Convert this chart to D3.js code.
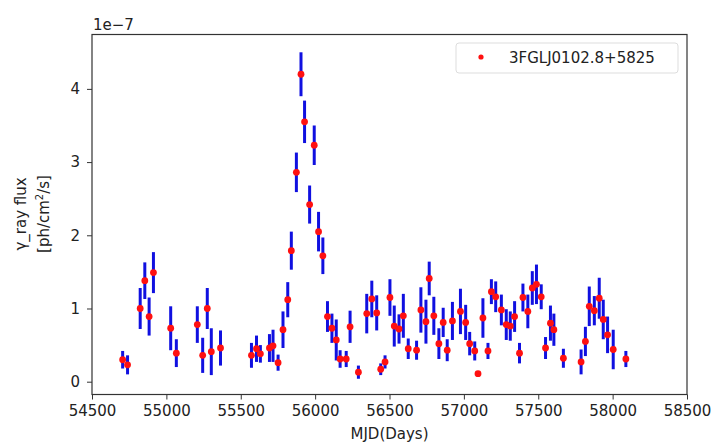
<!DOCTYPE html>
<html>
<head>
<meta charset="utf-8">
<script src="https://cdn.jsdelivr.net/npm/d3@7"></script>
<style>
    body { margin: 0; background: #fff; }
    svg text { font-family: "DejaVu Sans", sans-serif; fill: #222; }
</style>
</head>
<body>
<svg width="711" height="444"></svg>
<script>
/*jslint browser: true */
/*global d3 */

// light curve, MJD (days) / flux (1e-7 ph/cm2/s) / 1-sigma error
var mjd = [
    54706, 54739, 54824, 54855, 54884, 54913, 55029, 55067, 55208, 55244,
    55275, 55302, 55364, 55572, 55606, 55632, 55693, 55717, 55751, 55784,
    55816, 55840, 55874, 55905, 55929, 55963, 55994, 56023, 56052, 56083,
    56113, 56142, 56168, 56209, 56235, 56291, 56347, 56381, 56414, 56441,
    56470, 56503, 56532, 56564, 56593, 56626, 56682, 56711, 56745, 56767,
    56798, 56832, 56861, 56888, 56923, 56977, 57012, 57039, 57073, 57095,
    57128, 57162, 57185, 57214, 57252, 57285, 57312, 57341, 57374, 57397,
    57430, 57460, 57488, 57520, 57549, 57582, 57605, 57669, 57788, 57817,
    57843, 57877, 57910, 57937, 57966, 58004, 58089
];
var flux = [
    0.30, 0.23, 1.00, 1.38, 0.89, 1.49, 0.73, 0.39, 0.78, 0.36,
    1.00, 0.41, 0.46, 0.36, 0.45, 0.38, 0.46, 0.49, 0.26, 0.71,
    1.12, 1.79, 2.86, 4.20, 3.55, 2.42, 3.23, 2.05, 1.72, 0.89,
    0.73, 0.57, 0.31, 0.31, 0.75, 0.13, 0.93, 1.13, 0.94, 0.17,
    0.27, 1.15, 0.76, 0.72, 0.90, 0.45, 0.43, 0.98, 0.82, 1.41,
    0.90, 0.52, 0.81, 0.43, 0.83, 0.96, 0.81, 0.52, 0.42, 0.11,
    0.87, 0.42, 1.23, 1.16, 0.98, 0.78, 0.76, 0.89, 0.39, 1.15,
    0.96, 1.28, 1.33, 1.16, 0.46, 0.80, 0.71, 0.32, 0.27, 0.55,
    1.03, 0.97, 1.14, 0.85, 0.64, 0.44, 0.31
];
var fluxErr = [
    0.12, 0.13, 0.28, 0.25, 0.26, 0.28, 0.30, 0.19, 0.25, 0.24,
    0.28, 0.32, 0.24, 0.17, 0.18, 0.12, 0.19, 0.22, 0.11, 0.25,
    0.24, 0.26, 0.27, 0.30, 0.29, 0.26, 0.27, 0.27, 0.25, 0.21,
    0.20, 0.28, 0.12, 0.11, 0.22, 0.09, 0.27, 0.25, 0.24, 0.08,
    0.09, 0.25, 0.28, 0.20, 0.30, 0.14, 0.13, 0.31, 0.30, 0.23,
    0.26, 0.21, 0.20, 0.15, 0.26, 0.31, 0.24, 0.16, 0.13, 0,
    0.27, 0.11, 0.17, 0.21, 0.21, 0.21, 0.20, 0.21, 0.14, 0.19,
    0.23, 0.23, 0.27, 0.17, 0.15, 0.24, 0.22, 0.13, 0.17, 0.20,
    0.27, 0.20, 0.28, 0.27, 0.25, 0.27, 0.11
];
var xTicks = [54500, 55000, 55500, 56000, 56500, 57000, 57500, 58000, 58500];
var yTicks = [0, 1, 2, 3, 4];
var seriesName = "3FGLJ0102.8+5825";

(function () {
    "use strict";

    var margin = {
        top: 34.5, // px
        left: 92, // px
        bottom: 49.5, // px
        right: 24 // px
    };
    var svg = d3.select("svg");
    var width = 711 - margin.left - margin.right;
    var height = 444 - margin.top - margin.bottom;

    var points = mjd.map(function (m, i) {
        return {x: m, y: flux[i], e: fluxErr[i]};
    });

    var xScale = d3.scaleLinear()
        .domain([54500, 58500])
        .range([0, width]);
    var yScale = d3.scaleLinear()
        .domain([-0.175, 4.743])
        .range([height, 0]);

    var main = svg.append("g")
        .attr("transform",
                "translate(" + margin.left + "," + margin.top + ")");

    var styleAxis = function (group) {
        group.select(".domain").remove();
        group.selectAll(".tick line")
            .attr("stroke", "#333")
            .attr("stroke-width", 1);
        group.selectAll(".tick text")
            .attr("font-size", 15)
            .attr("fill", "#222");
    };

    main.append("g")
        .attr("transform", "translate(0," + height + ")")
        .call(d3.axisBottom(xScale)
            .tickValues(xTicks)
            .tickSize(5)
            .tickPadding(6)
            .tickFormat(d3.format("d")))
        .call(styleAxis);

    main.append("g")
        .call(d3.axisLeft(yScale)
            .tickValues(yTicks)
            .tickSize(5)
            .tickPadding(7)
            .tickFormat(d3.format("d")))
        .call(styleAxis);

    // error bars, no caps
    main.append("g")
        .selectAll("line")
        .data(points.filter(function (d) {
            return d.e > 0;
        }))
        .join("line")
        .attr("x1", function (d) {
            return xScale(d.x);
        })
        .attr("x2", function (d) {
            return xScale(d.x);
        })
        .attr("y1", function (d) {
            return yScale(d.y - d.e);
        })
        .attr("y2", function (d) {
            return yScale(d.y + d.e);
        })
        .attr("stroke", "#1010e0")
        .attr("stroke-width", 3);

    main.append("g")
        .selectAll("circle")
        .data(points)
        .join("circle")
        .attr("cx", function (d) {
            return xScale(d.x);
        })
        .attr("cy", function (d) {
            return yScale(d.y);
        })
        .attr("r", 3.4)
        .attr("fill", "#ff1010");

    // frame
    main.append("rect")
        .attr("width", width)
        .attr("height", height)
        .attr("fill", "none")
        .attr("stroke", "#333")
        .attr("stroke-width", 1.2);

    // legend
    var legend = main.append("g")
        .attr("transform", "translate(" + (width - 231) + ",8.5)");
    legend.append("rect")
        .attr("width", 222)
        .attr("height", 30)
        .attr("rx", 3)
        .attr("fill", "#fff")
        .attr("stroke", "#ddd");
    legend.append("circle")
        .attr("cx", 25)
        .attr("cy", 14)
        .attr("r", 2.6)
        .attr("fill", "#ff1010");
    legend.append("text")
        .attr("x", 53)
        .attr("y", 20)
        .attr("font-size", 15)
        .text(seriesName);

    // labels
    main.append("text")
        .attr("x", 1)
        .attr("y", -5)
        .attr("font-size", 15)
        .text("1e\u22127");

    main.append("text")
        .attr("x", width / 2)
        .attr("y", height + 44)
        .attr("text-anchor", "middle")
        .attr("font-size", 15)
        .text("MJD(Days)");

    var yLabel = svg.append("text")
        .attr("transform", "translate(26,214) rotate(-90)")
        .attr("text-anchor", "middle")
        .attr("font-size", 15);
    yLabel.append("tspan")
        .attr("x", 0)
        .attr("y", 0)
        .text("\u03b3_ray flux");
    var unit = yLabel.append("tspan")
        .attr("x", 0)
        .attr("y", 23)
        .text("[ph/cm");
    unit.append("tspan")
        .attr("dy", -6)
        .attr("font-size", 10)
        .text("2");
    yLabel.append("tspan")
        .attr("dy", 6)
        .text("/s]");
}());
</script>
</body>
</html>
